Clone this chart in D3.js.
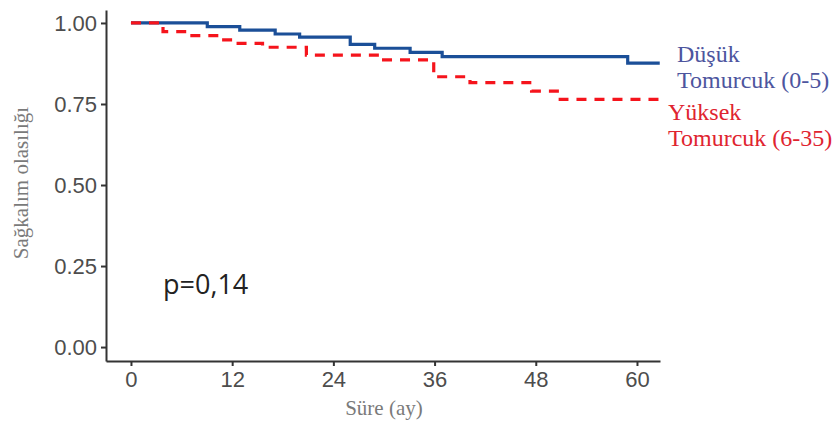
<!DOCTYPE html>
<html lang="tr">
<head>
  <meta charset="UTF-8">
  <title>Sağkalım eğrisi</title>
  <script src="https://d3js.org/d3.v7.min.js"></script>
  <style>
    body { margin: 0; background: #fff; }
    svg { display: block; }
  </style>
</head>
<body>
  <div id="chart"></div>
  <script>
    // Kaplan-Meier basamakları (ay, sağkalım olasılığı)
    const lowTimes = [0, 9.05, 12.9, 17.1, 20, 26, 28.9, 33.1, 36.9, 58.9, 62.7];
    const lowSurv = [1.0, 0.989, 0.978, 0.966, 0.956, 0.934, 0.922, 0.909, 0.896, 0.876, 0.876];

    const highTimes = [0, 3.8, 6.6, 10.6, 12.1, 15.6, 20.8, 29.5, 35.9, 40.2, 47.5, 50.9, 62.7];
    const highSurv = [1.0, 0.973, 0.961, 0.948, 0.937, 0.925, 0.901, 0.886, 0.834, 0.816, 0.790, 0.764, 0.764];

    const xTicks = [0, 12, 24, 36, 48, 60];
    const yTicks = [0, 0.25, 0.5, 0.75, 1.0];

    const lowLabel = ["Düşük", "Tomurcuk (0-5)"];
    const highLabel = ["Yüksek", "Tomurcuk (6-35)"];
    const pText = "p=0,14";

    const width = 838, height = 424;

    const svg = d3.select("#chart").append("svg")
      .attr("width", width)
      .attr("height", height);

    svg.append("rect").attr("width", width).attr("height", height).attr("fill", "#fff");

    const x = d3.scaleLinear().domain([-2.96, 62.73]).range([106, 660]);
    const y = d3.scaleLinear().domain([-0.043, 1.04]).range([361, 10]);

    // eksenler
    const xAxis = svg.append("g")
      .attr("transform", `translate(0,${y.range()[0]})`)
      .call(d3.axisBottom(x).tickValues(xTicks).tickSize(5).tickSizeOuter(0).tickPadding(5));

    const yAxis = svg.append("g")
      .attr("transform", `translate(${x.range()[0]},0)`)
      .call(d3.axisLeft(y).tickValues(yTicks).tickFormat(d3.format(".2f")).tickSize(5).tickSizeOuter(0).tickPadding(4));

    [xAxis, yAxis].forEach(g => {
      g.select(".domain").attr("stroke", "#333").attr("stroke-width", 2);
      g.selectAll(".tick line").attr("stroke", "#333").attr("stroke-width", 2);
      g.selectAll(".tick text")
        .attr("fill", "#4d4d4d")
        .style("font-family", "'Liberation Sans', Arial, sans-serif")
        .style("font-size", "22px");
    });

    // eğriler
    const line = d3.line()
      .x(d => x(d[0]))
      .y(d => y(d[1]))
      .curve(d3.curveStepAfter);

    svg.append("path")
      .datum(d3.zip(lowTimes, lowSurv))
      .attr("d", line)
      .attr("fill", "none")
      .attr("stroke", "#1b4f98")
      .attr("stroke-width", 3.2);

    svg.append("path")
      .datum(d3.zip(highTimes, highSurv))
      .attr("d", line)
      .attr("fill", "none")
      .attr("stroke", "#f5141c")
      .attr("stroke-width", 3.2)
      .attr("stroke-dasharray", "10,8");

    // eksen başlıkları
    svg.append("text")
      .attr("transform", `translate(28,${y(0.5) - 2}) rotate(-90)`)
      .attr("text-anchor", "middle")
      .attr("fill", "#7a7a7a")
      .style("font-family", "'Liberation Serif', 'Times New Roman', serif")
      .style("font-size", "21px")
      .text("Sağkalım olasılığı");

    svg.append("text")
      .attr("x", x(30))
      .attr("y", 415)
      .attr("text-anchor", "middle")
      .attr("fill", "#7a7a7a")
      .style("font-family", "'Liberation Serif', 'Times New Roman', serif")
      .style("font-size", "21px")
      .text("Süre (ay)");

    // etiketler
    const legend = svg.append("g")
      .style("font-family", "'Liberation Serif', 'Times New Roman', serif")
      .style("font-size", "24px");

    legend.selectAll("text.low")
      .data(lowLabel)
      .join("text")
      .attr("class", "low")
      .attr("x", 677)
      .attr("y", (d, i) => 62 + i * 26)
      .attr("fill", "#4d559e")
      .text(d => d);

    legend.selectAll("text.high")
      .data(highLabel)
      .join("text")
      .attr("class", "high")
      .attr("x", 668)
      .attr("y", (d, i) => 120 + i * 26)
      .attr("fill", "#df2430")
      .text(d => d);

    svg.append("text")
      .attr("x", 163)
      .attr("y", 294)
      .attr("fill", "#222")
      .style("font-family", "'Open Sans', sans-serif")
      .style("font-size", "27px")
      .text(pText);
  </script>
</body>
</html>
